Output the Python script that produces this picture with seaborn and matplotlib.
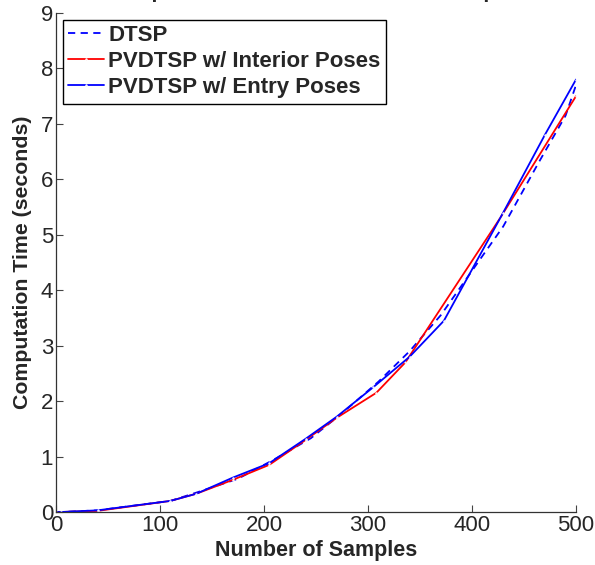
import pandas as pd
import seaborn as sns
import matplotlib.pyplot as plt

# =============================================================================
# Data
# =============================================================================

dtsp_x = [0, 5, 40, 110, 135, 175, 210, 245, 275, 310, 340, 370, 400, 430, 464, 490, 500]
dtsp_y = [0, 0, 0.03, 0.2, 0.35, 0.6, 0.95, 1.33, 1.78, 2.35, 2.9, 3.55, 4.35, 5.15, 6.3, 7.15, 7.7]

interior_x = [0, 5, 40, 110, 135, 170, 205, 240, 270, 308, 336, 427, 500]
interior_y = [0, 0, 0.02, 0.2, 0.33, 0.58, 0.85, 1.3, 1.7, 2.15, 2.7, 5.3, 7.5]

entry_x = [0, 5, 40, 110, 135, 170, 205, 240, 270, 305, 340, 373, 430, 470, 500]
entry_y = [0, 0, 0.03, 0.2, 0.33, 0.62, 0.88, 1.32, 1.72, 2.25, 2.8, 3.45, 5.4, 6.8, 7.8]

labels = ["DTSP", "PVDTSP w/ Interior Poses", "PVDTSP w/ Entry Poses"]

x_ticks = [0, 100, 200, 300, 400, 500]
y_ticks = list(range(0, 10))

title = "Computation Time vs. Number of Samples"

# =============================================================================
# Plot
# =============================================================================

sns.set_style("ticks")
plt.rcParams["font.family"] = ["Liberation Sans", "DejaVu Sans"]

fig = plt.figure(figsize=(5.95, 5.65), dpi=100)
ax = fig.add_axes([56 / 595, 53 / 565, 520 / 595, 499 / 565])

df_dtsp = pd.DataFrame({"x": dtsp_x, "y": dtsp_y})
df_int = pd.DataFrame({"x": interior_x, "y": interior_y})
df_entry = pd.DataFrame({"x": entry_x, "y": entry_y})

sns.lineplot(data=df_dtsp, x="x", y="y", color="#0000ff", linestyle=(0, (4, 3)),
             linewidth=1.3, label=labels[0], ax=ax)
sns.lineplot(data=df_int, x="x", y="y", color="#ff0000", marker=".", markersize=2,
             linewidth=1.3, label=labels[1], ax=ax)
sns.lineplot(data=df_entry, x="x", y="y", color="#0000ff", marker=".", markersize=2,
             linewidth=1.3, label=labels[2], ax=ax)

ax.set_xlim(0, 500)
ax.set_ylim(0, 9)
ax.set_xticks(x_ticks)
ax.set_yticks(y_ticks)
ax.tick_params(direction="in", length=5, width=0.8, labelsize=16, color="#444444", pad=2)
ax.set_xlabel("Number of Samples", fontsize=15.5, fontweight="bold", labelpad=3)
ax.set_ylabel("Computation Time (seconds)", fontsize=15.3, fontweight="bold", labelpad=6)

sns.despine(ax=ax)
for side in ["left", "bottom"]:
    ax.spines[side].set_color("#333333")
    ax.spines[side].set_linewidth(0.9)

leg = ax.legend(loc="upper left", fontsize=16, frameon=True, fancybox=False,
                handlelength=1.6, handletextpad=0.2, borderpad=0.25,
                labelspacing=0.22, borderaxespad=0.3)
leg.get_frame().set_edgecolor("black")
leg.get_frame().set_linewidth(1.0)
leg.get_frame().set_alpha(1)
for t in leg.get_texts():
    t.set_fontweight("bold")

# title sits above the visible area, only its bottom shows
fig.text(0.53, 1.0 + 2 / 565, title, ha="center", va="baseline",
         fontsize=15, fontweight="bold")

plt.savefig("out.png", dpi=100)
